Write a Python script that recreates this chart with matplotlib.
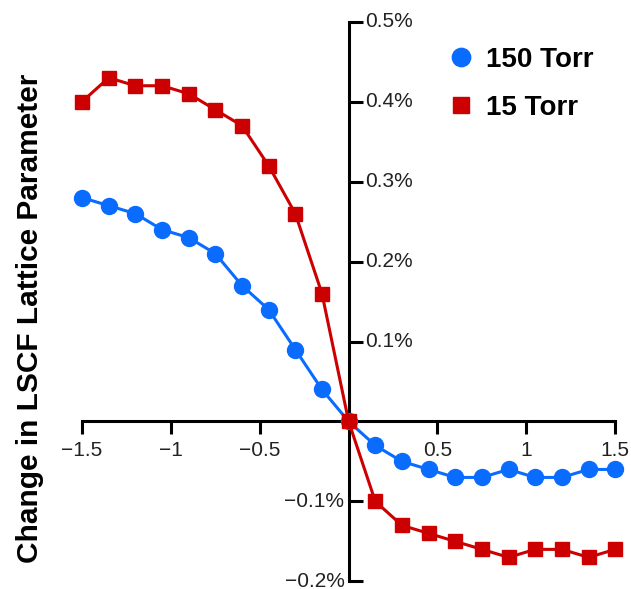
import matplotlib
matplotlib.use("Agg")
import matplotlib.pyplot as plt

plt.rcParams['font.family'] = ['Liberation Sans', 'DejaVu Sans']

# strain values (x) and change in lattice parameter (%)
strain = [-1.5, -1.35, -1.2, -1.05, -0.9, -0.75, -0.6, -0.45, -0.3, -0.15, 0.0,
          0.15, 0.3, 0.45, 0.6, 0.75, 0.9, 1.05, 1.2, 1.35, 1.5]
torr_150 = [0.28, 0.27, 0.26, 0.24, 0.23, 0.21, 0.17, 0.14, 0.09, 0.04, 0.0,
            -0.03, -0.05, -0.06, -0.07, -0.07, -0.06, -0.07, -0.07, -0.06, -0.06]
torr_15 = [0.40, 0.43, 0.42, 0.42, 0.41, 0.39, 0.37, 0.32, 0.26, 0.16, 0.0,
           -0.10, -0.13, -0.14, -0.15, -0.16, -0.17, -0.16, -0.16, -0.17, -0.16]

x_ticks = [-1.5, -1, -0.5, 0.5, 1, 1.5]
x_labels = ['\u22121.5', '\u22121', '\u22120.5', '0.5', '1', '1.5']
y_ticks = [-0.2, -0.1, 0.1, 0.2, 0.3, 0.4, 0.5]

blue = '#0a6cff'
red = '#cc0000'
txt_col = '#222222'

fig = plt.figure(figsize=(6.31, 5.89), dpi=100)
ax = fig.add_axes([0.130, 0.013, 0.845, 0.950])

ax.plot(strain, torr_150, '-o', color=blue, lw=2.2, ms=11.5, label='150 Torr',
        clip_on=False, zorder=3)
ax.plot(strain, torr_15, '-s', color=red, lw=2.2, ms=10, label='15 Torr',
        clip_on=False, zorder=4)

ax.set_xlim(-1.5, 1.5)
ax.set_ylim(-0.2, 0.5)

# axes crossing at the origin
ax.spines['left'].set_position(('data', 0))
ax.spines['bottom'].set_position(('data', 0))
ax.spines['right'].set_visible(False)
ax.spines['top'].set_visible(False)
for s in ['left', 'bottom']:
    ax.spines[s].set_linewidth(2.2)

ax.set_xticks(x_ticks)
ax.set_xticklabels(x_labels)
ax.tick_params(axis='x', direction='out', length=9, width=2.2, pad=5,
               labelsize=15, labelcolor=txt_col)

ax.set_yticks(y_ticks)
ax.tick_params(axis='y', direction='in', length=10, width=2.2, labelleft=False)
for v in y_ticks:
    if v > 0:
        ax.annotate(f'{v:.1f}%', (0, v), xytext=(12, 0),
                    textcoords='offset points', ha='left', va='center',
                    fontsize=15, color=txt_col)
    else:
        ax.annotate(f'\u2212{abs(v):.1f}%', (0, v), xytext=(-3, 0),
                    textcoords='offset points', ha='right', va='center',
                    fontsize=15, color=txt_col)

fig.text(30 / 631, 1 - 318 / 589, 'Change in LSCF Lattice Parameter',
         rotation=90, ha='center', va='center', fontsize=21.5, fontweight='bold')

leg = ax.legend(loc='upper left', bbox_to_anchor=(435 / 631, 1 - 33 / 589),
                bbox_transform=fig.transFigure, frameon=False, fontsize=20,
                handlelength=0.9, handletextpad=0.45, labelspacing=0.8,
                numpoints=1, borderpad=0, markerscale=1.15)
for t in leg.get_texts():
    t.set_fontweight('bold')
for h in leg.legend_handles:
    h.set_linestyle('none')

fig.savefig('out.png', dpi=100)
